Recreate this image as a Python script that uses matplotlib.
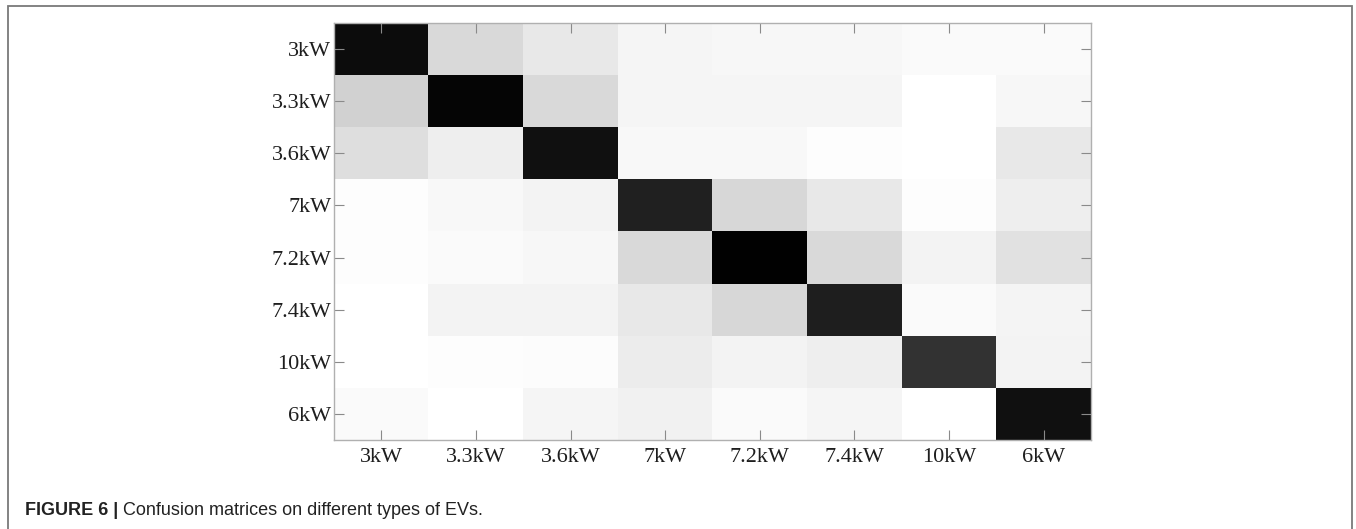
import numpy as np
import matplotlib.pyplot as plt
from matplotlib.patches import Rectangle

# Class labels
classes = ["3kW", "3.3kW", "3.6kW", "7kW", "7.2kW", "7.4kW", "10kW", "6kW"]

row_3kW = [0.95, 0.15, 0.09, 0.04, 0.035, 0.035, 0.02, 0.02]
row_33kW = [0.18, 0.98, 0.15, 0.04, 0.04, 0.04, 0.00, 0.035]
row_36kW = [0.13, 0.07, 0.93, 0.03, 0.03, 0.01, 0.00, 0.09]
row_7kW = [0.01, 0.03, 0.05, 0.87, 0.16, 0.09, 0.01, 0.07]
row_72kW = [0.01, 0.02, 0.035, 0.15, 0.99, 0.15, 0.05, 0.12]
row_74kW = [0.00, 0.05, 0.05, 0.09, 0.16, 0.88, 0.02, 0.045]
row_10kW = [0.00, 0.01, 0.015, 0.075, 0.05, 0.07, 0.80, 0.05]
row_6kW = [0.02, 0.00, 0.04, 0.055, 0.02, 0.04, 0.00, 0.93]

cm = np.array([row_3kW, row_33kW, row_36kW, row_7kW,
               row_72kW, row_74kW, row_10kW, row_6kW])

W, H = 1356, 529
fig = plt.figure(figsize=(W / 100, H / 100), dpi=100)

# outer frame of the figure panel
fig.patches.append(Rectangle((8 / W, -0.05), (1352 - 8) / W, 1.05 - 6 / H,
                             transform=fig.transFigure, fill=False,
                             edgecolor="#7a7a7a", linewidth=1.3))

ax = fig.add_axes([334 / W, (H - 440) / H, (1091 - 334) / W, (440 - 23) / H])
ax.imshow(cm, cmap="gray_r", vmin=0, vmax=1, aspect="auto",
          interpolation="nearest")

ax.set_xticks(range(len(classes)))
ax.set_yticks(range(len(classes)))
ax.set_xticklabels(classes, family="Liberation Serif", fontsize=16, color="#1e1e1e")
ax.set_yticklabels(classes, family="Liberation Serif", fontsize=16, color="#1e1e1e")
ax.tick_params(direction="in", length=7, width=0.8, color="#8a8a8a",
               top=True, right=True)
ax.tick_params(axis="x", pad=6)
ax.tick_params(axis="y", pad=2)
for s in ax.spines.values():
    s.set_color("#b0b0b0")
    s.set_linewidth(1.0)

# caption
t1 = fig.text(25 / W, 1 - 515 / H, "FIGURE 6 |", family="Liberation Sans",
              fontweight="bold", fontsize=13, color="#222222", va="baseline")
fig.canvas.draw()
bb = t1.get_window_extent()
fig.text((bb.x1 + 5) / W, 1 - 515 / H, "Confusion matrices on different types of EVs.",
         family="Liberation Sans", fontsize=13, color="#222222", va="baseline")

plt.savefig("out.png", dpi=100)
